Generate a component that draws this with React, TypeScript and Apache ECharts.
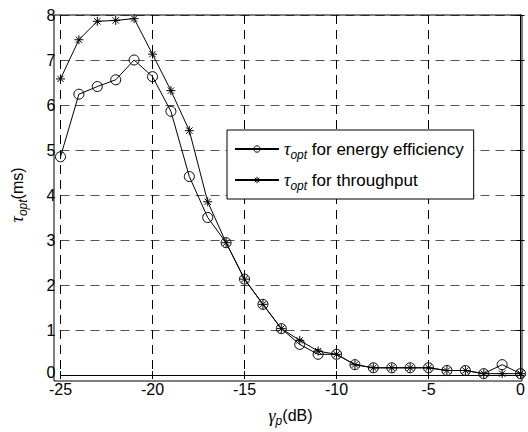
import React, { useEffect, useRef } from "react";
import * as echarts from "echarts";

const gammaDb = [-25, -24, -23, -22, -21, -20, -19, -18, -17, -16, -15, -14, -13, -12, -11, -10, -9, -8, -7, -6, -5, -4, -3, -2, -1, 0];
const tauEnergy = [4.85, 6.24, 6.41, 6.56, 7.0, 6.63, 5.86, 4.41, 3.5, 2.94, 2.13, 1.57, 1.03, 0.68, 0.46, 0.46, 0.23, 0.16, 0.16, 0.16, 0.16, 0.1, 0.1, 0.03, 0.23, 0.03];
const tauThroughput = [6.58, 7.45, 7.86, 7.88, 7.92, 7.13, 6.32, 5.43, 3.85, 2.94, 2.13, 1.57, 1.03, 0.77, 0.53, 0.46, 0.23, 0.16, 0.16, 0.16, 0.16, 0.1, 0.1, 0.03, 0.03, 0.03];
const seriesNames = ["energy", "throughput"];
const legendTexts = ["for energy efficiency", "for throughput"];

const SANS = "'Liberation Sans', Arial, Helvetica, sans-serif";
const SERIF = "'Liberation Serif', 'Times New Roman', serif";
const ASTERISK = "path://M5,0L5,10M0,5L10,5M1.5,1.5L8.5,8.5M1.5,8.5L8.5,1.5";

export default function App() {
  const ref = useRef<HTMLDivElement>(null);
  useEffect(() => {
    if (!ref.current) return;
    const chart = echarts.init(ref.current, undefined, { renderer: "svg" });
    const richSub = {
      t: { fontFamily: SERIF, fontStyle: "italic", fontSize: 18, color: "#000" },
      s: { fontFamily: SANS, fontStyle: "italic", fontSize: 12, color: "#000", padding: [11, 0, 0, 0] },
      n: { fontFamily: SANS, fontSize: 17, color: "#000" },
    } as any;
    const richAxis = { ...richSub, n: { fontFamily: SANS, fontSize: 16, color: "#000" } };
    const tickOnly = {
      axisLine: { show: false },
      axisTick: { show: true, inside: true, length: 4, lineStyle: { color: "#000" } },
      axisLabel: { show: false },
      splitLine: { show: false },
    };
    const hollow = { color: "rgba(0,0,0,0)", borderColor: "#000", borderWidth: 1 };
    chart.setOption({
      animation: false,
      backgroundColor: "#fff",
      grid: { left: 54, right: 6, top: 15, bottom: 51, containLabel: false },
      xAxis: [
        {
          type: "value",
          min: -25,
          max: 0,
          interval: 5,
          name: "{t|γ}{s|p}{n|(dB)}",
          nameLocation: "middle",
          nameGap: 29,
          nameTextStyle: { rich: richAxis },
          axisLine: { show: true, lineStyle: { color: "#000", width: 1 } },
          axisTick: { show: true, inside: true, length: 4, lineStyle: { color: "#000" } },
          axisLabel: { color: "#000", fontFamily: SANS, fontSize: 16, margin: 7, lineHeight: 14 },
          splitLine: { show: true, lineStyle: { color: "#000", type: [9, 6], width: 1 } },
        },
        { type: "value", position: "top", min: -25, max: 0, interval: 5, ...tickOnly },
      ],
      yAxis: [
        {
          type: "value",
          min: 0,
          max: 8,
          interval: 1,
          name: "{t|τ}{s|opt}{n|(ms)}",
          nameLocation: "middle",
          nameRotate: 90,
          nameGap: 32,
          nameTextStyle: { rich: richAxis },
          axisLine: { show: true, lineStyle: { color: "#000", width: 1 } },
          axisTick: { show: true, inside: true, length: 4, lineStyle: { color: "#000" } },
          axisLabel: {
            color: "#000",
            fontFamily: SANS,
            fontSize: 16,
            margin: 5,
            formatter: (v: number) => (v === 0 ? "{z|0}" : String(v)),
            rich: { z: { fontFamily: SANS, fontSize: 16, color: "#000", padding: [0, 0, 6, 0] } },
          },
          splitLine: { show: true, lineStyle: { color: "#555", type: [9, 6], width: 1 } },
        },
        { type: "value", position: "right", min: 0, max: 8, interval: 1, ...tickOnly },
      ],
      graphic: [
        {
          type: "rect",
          shape: { x: 54, y: 15, width: 468, height: 366 },
          style: { fill: "none", stroke: "#000", lineWidth: 1 },
          silent: true,
          z: 1,
        },
      ],
      legend: {
        orient: "vertical",
        left: 227,
        top: 130,
        padding: [6, 10, 6, 7],
        itemGap: 5,
        itemWidth: 44,
        itemHeight: 8,
        backgroundColor: "#fff",
        borderColor: "#000",
        borderWidth: 1,
        data: [
          { name: seriesNames[0], itemStyle: hollow },
          { name: seriesNames[1], itemStyle: hollow },
        ],
        formatter: (name: string) => `{t|τ}{s|opt} {n|${legendTexts[seriesNames.indexOf(name)]}}`,
        textStyle: { rich: richSub, fontSize: 17, lineHeight: 26 },
      },
      series: [
        {
          name: seriesNames[0],
          type: "line",
          data: gammaDb.map((x, i) => [x, tauEnergy[i]]),
          symbol: "circle",
          symbolSize: 10,
          showAllSymbol: true,
          lineStyle: { color: "#000", width: 1 },
          itemStyle: hollow,
          z: 3,
        },
        {
          name: seriesNames[1],
          type: "line",
          data: gammaDb.map((x, i) => [x, tauThroughput[i]]),
          symbol: ASTERISK,
          symbolSize: 9,
          showAllSymbol: true,
          lineStyle: { color: "#000", width: 1 },
          itemStyle: hollow,
          z: 3,
        },
      ],
    });
    return () => chart.dispose();
  }, []);
  return <div ref={ref} style={{ width: 528, height: 432, position: "absolute", left: 0, top: 0 }} />;
}
